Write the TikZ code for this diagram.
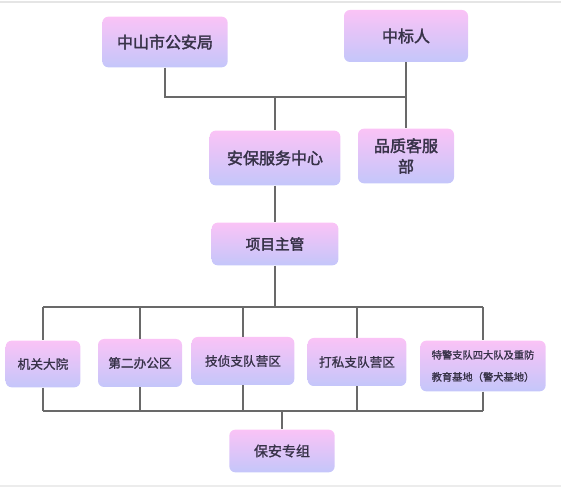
\documentclass[tikz,border=0pt]{standalone}
\usepackage{fontspec}
\newfontfamily\cjk{Noto Sans CJK SC}[FakeBold=1.2]
\newfontfamily\cjkb{Noto Sans CJK SC}[FakeBold=2.2]
\definecolor{boxtop}{RGB}{250,195,246}
\definecolor{boxbot}{RGB}{196,198,250}
\definecolor{linegray}{RGB}{105,105,105}
\definecolor{textgray}{RGB}{55,50,72}
\tikzset{
  unit/.style={rounded corners=4.5pt, top color=boxtop, bottom color=boxbot,
    text=textgray, align=center, inner sep=1pt, font=\cjk},
  conn/.style={draw=linegray, line width=1.3pt},
}
\begin{document}
\begin{tikzpicture}[x=0.75pt, y=-0.75pt]
    \useasboundingbox (0,0) rectangle (561,488);
    % frame lines
    \draw[gray!20, line width=1.5pt] (0,2) -- (561,2);
    \draw[gray!15, line width=2pt] (0,486) -- (561,486);
    % top level
    \node[unit, minimum width=94pt, minimum height=38pt, font=\cjkb\fontsize{12}{14}\selectfont] (gaj) at (165,42) {中山市公安局};
    \node[unit, minimum width=93pt, minimum height=39pt, font=\cjkb\fontsize{12}{14}\selectfont] (zbr) at (406,36) {中标人};
    \node[unit, minimum width=98pt, minimum height=41pt, font=\cjkb\fontsize{12}{14}\selectfont] (abzx) at (275,158) {安保服务中心};
    \node[unit, minimum width=72pt, minimum height=41pt, font=\cjkb\fontsize{12}{15.5}\selectfont] (pzkf) at (406,156) {品质客服\\部};
    \node[unit, minimum width=95pt, minimum height=32pt, font=\cjkb\fontsize{11}{13}\selectfont] (xmzg) at (275,244) {项目主管};
    % sites
    \node[unit, minimum width=56pt, minimum height=35pt, font=\cjk\fontsize{9.5}{11}\selectfont] (jgdy) at (43,364) {机关大院};
    \node[unit, minimum width=63pt, minimum height=36pt, font=\cjk\fontsize{9.5}{11}\selectfont] (debg) at (140,363) {第二办公区};
    \node[unit, minimum width=77pt, minimum height=36pt, font=\cjk\fontsize{9.5}{11}\selectfont] (jzzd) at (243,361) {技侦支队营区};
    \node[unit, minimum width=74pt, minimum height=36pt, font=\cjk\fontsize{9.5}{11}\selectfont] (dszd) at (357,362) {打私支队营区};
    \node[unit, minimum width=94pt, minimum height=38pt, font=\cjk\fontsize{7.7}{16.5}\selectfont] (tjzd) at (483,366) {特警支队四大队及重防\\教育基地（警犬基地）};
    \node[unit, minimum width=79pt, minimum height=32pt, font=\cjk\fontsize{10.5}{12}\selectfont] (bazz) at (282,451) {保安专组};
    % junctions
    \coordinate (topbus) at (275,97);
    \coordinate (midbus) at (275,307);
    \coordinate (lowbus) at (282,411);
    % connectors
    \draw[conn] (gaj.south) |- (zbr.south |- topbus);
    \draw[conn] (zbr.south) -- (pzkf.north);
    \draw[conn] (topbus) -- (abzx.north);
    \draw[conn] (abzx.south) -- (xmzg.north);
    \draw[conn] (xmzg.south) -- (midbus);
    \draw[conn] (jgdy.north |- midbus) -- (tjzd.north |- midbus);
    \draw[conn] (jgdy.south |- lowbus) -- (tjzd.south |- lowbus);
    \foreach \site in {jgdy,debg,jzzd,dszd,tjzd}{
        \draw[conn] (\site.north |- midbus) -- (\site.north);
        \draw[conn] (\site.south) -- (\site.south |- lowbus);
    }
    \draw[conn] (lowbus) -- (bazz.north);
\end{tikzpicture}
\end{document}
